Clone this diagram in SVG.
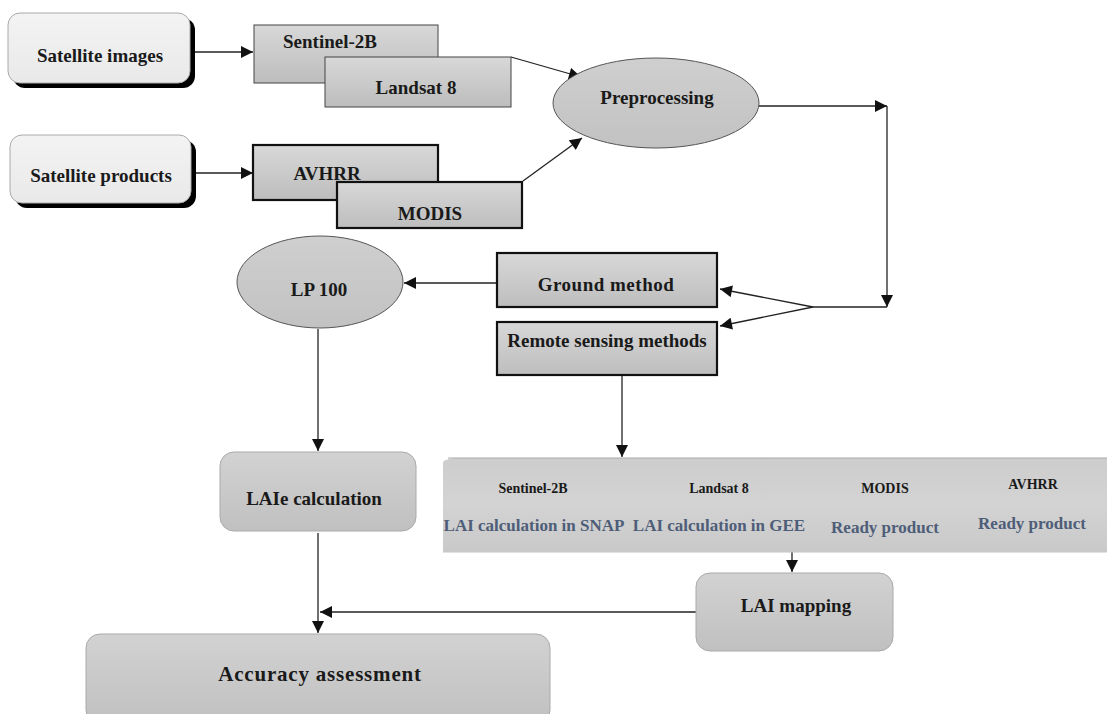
<svg xmlns="http://www.w3.org/2000/svg" width="1107" height="714" viewBox="0 0 1107 714">
<style>
.t{font-family:"Liberation Serif","Times New Roman",serif;font-weight:bold;fill:#1a1a1a;text-anchor:middle}
.h{font-size:19px}
.s{font-size:14px}
.b{font-size:17px;fill:#4e5d78}
.ln{stroke:#222;stroke-width:1.3;fill:none}
.bx{fill:url(#gb);stroke:#444;stroke-width:1}
.bk{fill:url(#gb);stroke:#111;stroke-width:2.2}
.el{fill:url(#ge);stroke:#555;stroke-width:1}
.rr{fill:url(#gr);stroke:#aaa;stroke-width:1}
.sh{fill:#000}
.sb{fill:url(#gs);stroke:#aaa;stroke-width:1}
</style>
<defs>
<marker id="ah" viewBox="0 0 10 10" refX="10" refY="5" markerWidth="14" markerHeight="12" markerUnits="userSpaceOnUse" orient="auto">
<path d="M0,0 L10,5 L0,10 z" fill="#111"/>
</marker>
<linearGradient id="gb" x1="0" y1="0" x2="0" y2="1"><stop offset="0" stop-color="#d8d8d8"/><stop offset="1" stop-color="#bdbdbd"/></linearGradient>
<linearGradient id="ge" x1="0" y1="0" x2="0" y2="1"><stop offset="0" stop-color="#cfcfcf"/><stop offset="1" stop-color="#c2c2c2"/></linearGradient>
<linearGradient id="gr" x1="0" y1="0" x2="0" y2="1"><stop offset="0" stop-color="#d2d2d2"/><stop offset="1" stop-color="#c0c0c0"/></linearGradient>
<linearGradient id="gs" x1="0" y1="0" x2="0" y2="1"><stop offset="0" stop-color="#f3f3f3"/><stop offset="1" stop-color="#e9e9e9"/></linearGradient>
<linearGradient id="gt" x1="0" y1="0" x2="0" y2="1"><stop offset="0" stop-color="#cdcdcd"/><stop offset="0.5" stop-color="#d3d3d3"/><stop offset="1" stop-color="#c9c9c9"/></linearGradient>
</defs>
<rect width="1107" height="714" fill="#fff"/>

<g id="connectors">
<line class="ln" x1="191" y1="52" x2="253" y2="52" marker-end="url(#ah)"/>
<line class="ln" x1="196" y1="173" x2="253" y2="173" marker-end="url(#ah)"/>
<line class="ln" x1="511" y1="57" x2="581" y2="77" marker-end="url(#ah)"/>
<line class="ln" x1="523" y1="181" x2="582" y2="138" marker-end="url(#ah)"/>
<line class="ln" x1="759" y1="106" x2="887" y2="106" marker-end="url(#ah)"/>
<line class="ln" x1="887" y1="106" x2="887" y2="307" marker-end="url(#ah)"/>
<polyline class="ln" points="887,307 813,307"/>
<line class="ln" x1="813" y1="307" x2="720" y2="289" marker-end="url(#ah)"/>
<line class="ln" x1="813" y1="307" x2="720" y2="326" marker-end="url(#ah)"/>
<line class="ln" x1="497" y1="283" x2="404" y2="283" marker-end="url(#ah)"/>
<line class="ln" x1="318" y1="329" x2="318" y2="451" marker-end="url(#ah)"/>
<line class="ln" x1="318" y1="533" x2="318" y2="633" marker-end="url(#ah)"/>
<line class="ln" x1="622" y1="376" x2="622" y2="457" marker-end="url(#ah)"/>
<line class="ln" x1="792" y1="552" x2="792" y2="572" marker-end="url(#ah)"/>
<line class="ln" x1="696" y1="612" x2="320" y2="612" marker-end="url(#ah)"/>
</g>

<g id="satellite-images">
<rect class="sh" x="13" y="18" width="182" height="70" rx="12"/>
<rect class="sb" x="8" y="13" width="182" height="70" rx="12"/>
<text class="t h" x="100" y="62">Satellite images</text>
</g>
<g id="satellite-products">
<rect class="sh" x="15" y="140" width="181" height="68" rx="12"/>
<rect class="sb" x="10" y="135" width="181" height="68" rx="12"/>
<text class="t h" x="101" y="182">Satellite products</text>
</g>

<g id="sentinel-2b">
<rect class="bx" x="254" y="25" width="184" height="58"/>
<text class="t h" x="330" y="48">Sentinel-2B</text>
</g>
<g id="landsat-8">
<rect class="bx" x="325" y="57" width="186" height="50"/>
<text class="t h" x="416" y="94">Landsat 8</text>
</g>
<g id="avhrr">
<rect class="bk" x="253" y="145" width="185" height="55"/>
</g>
<g id="modis">
<rect class="bk" x="337" y="182" width="185" height="46"/>
<text class="t h" x="430" y="220">MODIS</text>
</g>
<text class="t h" x="327" y="180">AVHRR</text>

<g id="preprocessing">
<ellipse class="el" cx="656" cy="103" rx="103" ry="45"/>
<text class="t h" x="657" y="104">Preprocessing</text>
</g>

<g id="ground-method">
<rect class="bk" x="497" y="253" width="220" height="54"/>
<text class="t h" x="606" y="291" letter-spacing="0.5">Ground method</text>
</g>
<g id="remote-sensing-methods">
<rect class="bk" x="497" y="322" width="220" height="53"/>
<text class="t h" x="607" y="347">Remote sensing methods</text>
</g>

<g id="lp-100">
<ellipse class="el" cx="320" cy="282" rx="83" ry="46"/>
<text class="t h" x="319" y="296">LP 100</text>
</g>

<g id="laie-calculation">
<rect class="rr" x="220" y="452" width="196" height="79" rx="14"/>
<text class="t h" x="314" y="505">LAIe calculation</text>
</g>

<g id="lai-table">
<path d="M443,462 Q447,458 458,458 L1107,458 L1107,552 L443,552 Z" fill="url(#gt)"/>
<line x1="448" y1="458" x2="1107" y2="458" stroke="#aaa" stroke-width="1"/>
<line x1="443" y1="552" x2="1107" y2="552" stroke="#c4c4c4" stroke-width="1"/>
<text class="t s" x="533" y="493">Sentinel-2B</text>
<text class="t b" x="534" y="531">LAI calculation in SNAP</text>
<text class="t s" x="719" y="493">Landsat 8</text>
<text class="t b" x="719" y="531">LAI calculation in GEE</text>
<text class="t s" x="885" y="493">MODIS</text>
<text class="t b" x="885" y="533">Ready product</text>
<text class="t s" x="1033" y="489">AVHRR</text>
<text class="t b" x="1032" y="529">Ready product</text>
</g>

<g id="lai-mapping">
<rect class="rr" x="696" y="573" width="197" height="78" rx="14"/>
<text class="t h" x="796" y="612">LAI mapping</text>
</g>

<g id="accuracy-assessment">
<rect class="rr" x="86" y="634" width="464" height="90" rx="14"/>
<text class="t" x="320" y="681" font-size="21" letter-spacing="0.8">Accuracy assessment</text>
</g>
</svg>
